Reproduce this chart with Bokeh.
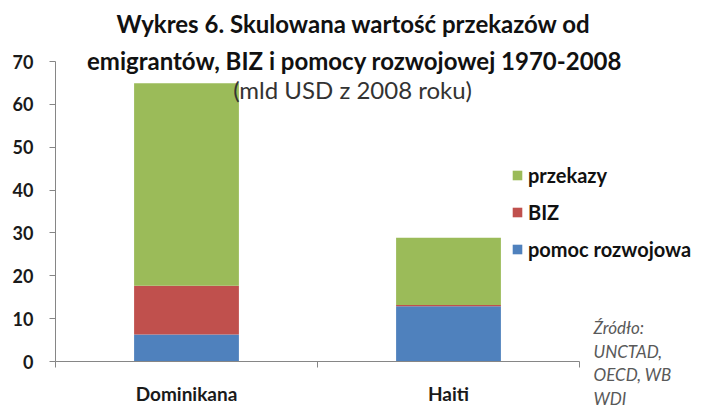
from bokeh.plotting import figure
from bokeh.models import (Range1d, FixedTicker, Legend, LegendItem, Label,
                          ColumnDataSource)
from bokeh.embed import file_html
from bokeh.resources import INLINE

# ---- data ----
categories = ["Dominikana", "Haiti"]
pomoc_rozwojowa = [6.3, 12.9]
biz = [11.4, 0.3]
przekazy = [47.2, 15.7]
series_names = ["pomoc rozwojowa", "BIZ", "przekazy"]
series_colors = ["#4F81BD", "#C0504D", "#9BBB59"]
y_ticks = [0, 10, 20, 30, 40, 50, 60, 70]
title_lines = ["Wykres 6. Skulowana wartość przekazów od",
               "emigrantów, BIZ i pomocy rozwojowej 1970-2008"]
subtitle = "(mld USD z 2008 roku)"
source_lines = ["Źródło:", "UNCTAD,", "OECD, WB", "WDI"]

FONT = "Lato"
W, H = 702, 407
# page-pixel geometry of the value axes
AX_L, AX_R, AX_T, AX_B = 55, 579, 61, 361
Y_MAX = 70
n = len(categories)
px_x = (AX_R - AX_L) / n
px_y = (AX_B - AX_T) / Y_MAX

xs = [i + 0.5 for i in range(n)]
src = ColumnDataSource(dict(x=xs, cat=categories,
                            **{"pomoc rozwojowa": pomoc_rozwojowa,
                               "BIZ": biz, "przekazy": przekazy}))

p = figure(width=W, height=H, output_backend="svg", toolbar_location=None,
           x_range=Range1d(-AX_L / px_x, n + (W - AX_R) / px_x),
           y_range=Range1d(-(H - AX_B) / px_y, Y_MAX + AX_T / px_y),
           min_border=0)
p.outline_line_color = None
p.xgrid.grid_line_color = None
p.ygrid.grid_line_color = None
p.background_fill_color = "white"
p.border_fill_color = "white"

renderers = p.vbar_stack(series_names, x="x", width=0.4, source=src,
                         color=series_colors, line_color=None)

# y axis
ya = p.yaxis[0]
ya.fixed_location = 0
ya.bounds = (0, Y_MAX)
ya.ticker = FixedTicker(ticks=y_ticks)
ya.axis_line_color = "#868686"
ya.major_tick_line_color = "#868686"
ya.major_tick_out = 6
ya.major_tick_in = 0
ya.minor_tick_line_color = None
ya.major_label_standoff = 16
ya.major_label_text_font = FONT
ya.major_label_text_font_style = "bold"
ya.major_label_text_font_size = "18px"
ya.major_label_text_color = "#1a1a1a"

# x axis: category labels at bar centres, tick marks between categories
xa = p.xaxis[0]
xa.fixed_location = 0
xa.bounds = (0, n)
xa.ticker = FixedTicker(ticks=xs, minor_ticks=list(range(n + 1)))
xa.major_label_overrides = {x: c for x, c in zip(xs, categories)}
xa.axis_line_color = "#868686"
xa.major_tick_out = 0
xa.major_tick_in = 0
xa.minor_tick_out = 6
xa.minor_tick_in = 0
xa.minor_tick_line_color = "#868686"
xa.major_label_standoff = 14
xa.major_label_text_font = FONT
xa.major_label_text_font_style = "bold"
xa.major_label_text_font_size = "19px"
xa.major_label_text_color = "#1a1a1a"

# legend
items = [LegendItem(label=nm, renderers=[r]) for nm, r in zip(series_names, renderers)][::-1]
legend = Legend(items=items, location=(511, 146), orientation="vertical",
                glyph_width=12, glyph_height=12, label_height=20, spacing=13,
                label_standoff=5, padding=0, margin=0,
                border_line_color=None, background_fill_alpha=0,
                label_text_font=FONT, label_text_font_style="bold",
                label_text_font_size="20px", label_text_color="#111111")
p.add_layout(legend)

# titles (screen units from the bottom-left of the canvas-sized frame)
for txt, sx, py in [(title_lines[0], 353, 23), (title_lines[1], 354, 60)]:
    p.add_layout(Label(x=sx, y=H - py, x_units="screen", y_units="screen", text=txt,
                       text_align="center", text_baseline="middle",
                       text_font=FONT, text_font_style="bold",
                       text_font_size="24px", text_color="#111111"))
p.add_layout(Label(x=352, y=H - 89, x_units="screen", y_units="screen", text=subtitle,
                   text_align="center", text_baseline="middle",
                   text_font=FONT, text_font_size="24px", text_color="#333333"))

# source note
for i, line in enumerate(source_lines):
    p.add_layout(Label(x=593, y=H - 327 - 23.5 * i, x_units="screen", y_units="screen",
                       text=line, text_align="left", text_baseline="middle",
                       text_font=FONT, text_font_style="italic",
                       text_font_size="17px", text_color="#595959"))

open("out.html", "w").write(file_html(p, INLINE))
